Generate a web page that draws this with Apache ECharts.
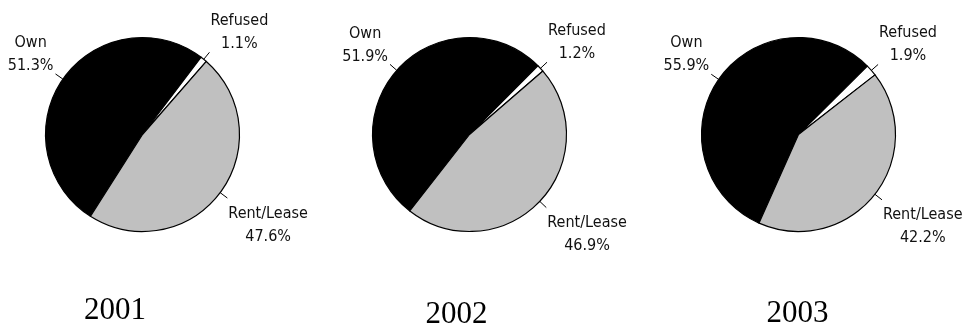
<!DOCTYPE html>
<html>
<head>
<meta charset="utf-8">
<script src="https://cdn.jsdelivr.net/npm/echarts@6/dist/echarts.min.js"></script>
<style>
  html, body { margin: 0; padding: 0; background: #fff; }
  #chart { width: 966px; height: 331px; }
</style>
</head>
<body>
<div id="chart"></div>
<script>
// Housing tenure shares by survey year (percent)
const years = ['2001', '2002', '2003'];
const categories = ['Own', 'Refused', 'Rent/Lease'];
const ownShare = [51.3, 51.9, 55.9];
const refusedShare = [1.1, 1.2, 1.9];
const rentShare = [47.6, 46.9, 42.2];

// Layout of the three pies
const pieCenters = [[142.5, 134.5], [469.5, 134.5], [798.5, 134.5]];
const pieStartAngles = [237.5, 232, 246];
const pieRadius = 97;
const yearLabelPos = [[115, 311], [456.5, 314.5], [797.5, 313.5]];

const sliceColors = { 'Own': '#000000', 'Refused': '#ffffff', 'Rent/Lease': '#c0c0c0' };
// Extra padding nudges each label block away from its leader line end
const labelPadding = {
  'Own': [0, 1, 39, 0],
  'Refused': [0, 0, 40, 0],
  'Rent/Lease': [54, 0, 0, 0]
};

const labelFont = "'DejaVu Sans Condensed', 'Liberation Sans Narrow', sans-serif";

const chart = echarts.init(document.getElementById('chart'), null, { renderer: 'canvas' });

const series = years.map((year, i) => {
  const values = [ownShare[i], refusedShare[i], rentShare[i]];
  return {
    type: 'pie',
    name: year,
    center: pieCenters[i],
    radius: pieRadius,
    startAngle: pieStartAngles[i],
    clockwise: true,
    avoidLabelOverlap: false,
    animation: false,
    silent: true,
    emphasis: { disabled: true },
    itemStyle: { borderColor: '#000', borderWidth: 1.2 },
    label: {
      show: true,
      position: 'outside',
      alignTo: 'none',
      edgeDistance: 0,
      distanceToLabelLine: 1,
      overflow: 'none',
      formatter: p => `{t|${p.name}}\n{t|${p.value.toFixed(1)}%}`,
      rich: {
        t: {
          align: 'center',
          fontFamily: labelFont,
          fontSize: 16,
          lineHeight: 23,
          color: '#111'
        }
      }
    },
    labelLine: {
      show: true,
      length: 9,
      length2: 0,
      smooth: false,
      lineStyle: { color: '#000', width: 1 }
    },
    data: categories.map((name, k) => ({
      name: name,
      value: values[k],
      itemStyle: { color: sliceColors[name] },
      label: { padding: labelPadding[name] }
    }))
  };
});

// Year captions under each pie
const yearCaptions = years.map((year, i) => ({
  type: 'text',
  x: yearLabelPos[i][0],
  y: yearLabelPos[i][1],
  silent: true,
  style: {
    text: year,
    font: "31px 'Liberation Serif', 'Times New Roman', serif",
    fill: '#000',
    align: 'center',
    verticalAlign: 'middle'
  }
}));

chart.setOption({
  backgroundColor: '#fff',
  animation: false,
  graphic: yearCaptions,
  series: series
});
</script>
</body>
</html>
